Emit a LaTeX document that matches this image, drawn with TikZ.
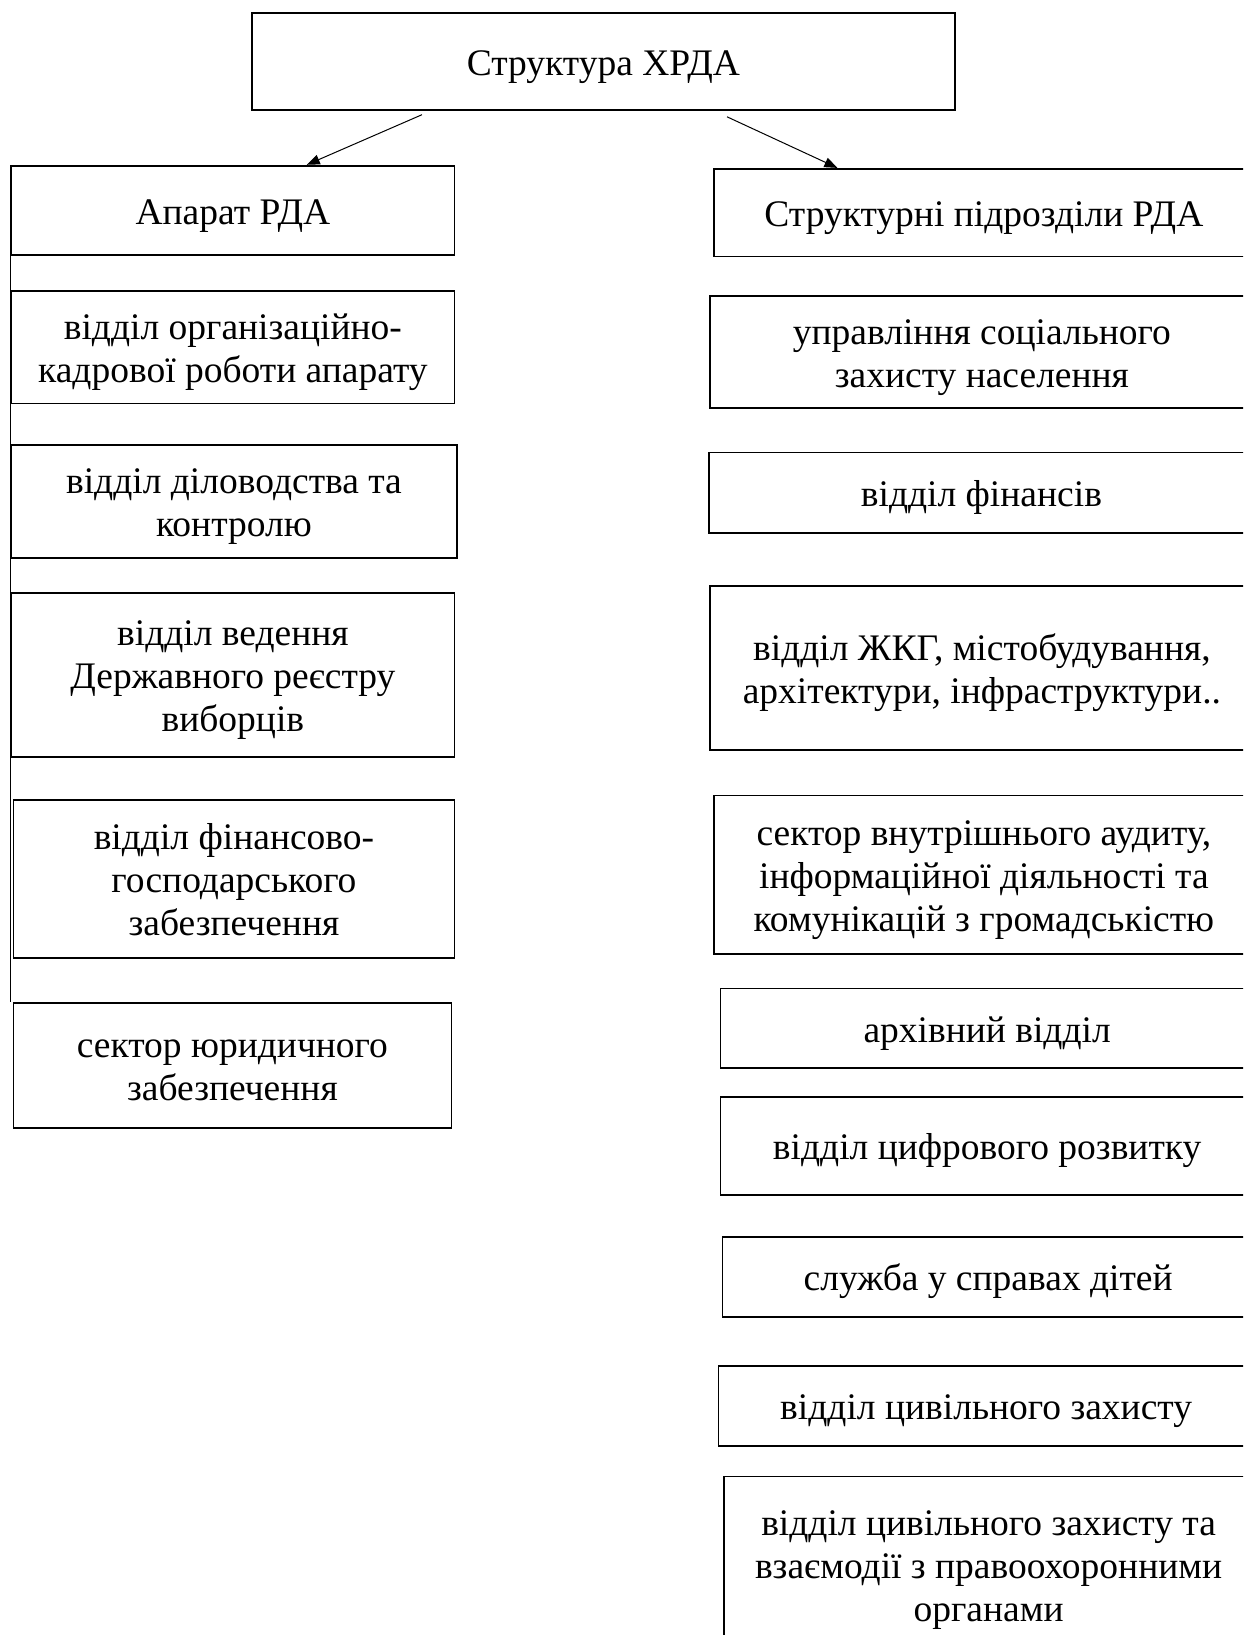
\documentclass[tikz,border=0pt]{standalone}
\usepackage{fontspec}
\setmainfont{Liberation Serif}
\usetikzlibrary{arrows.meta,calc}
\newcommand{\tA}{\rule{0pt}{36.7pt}}
\newcommand{\tZ}{\rule[-9pt]{0pt}{9pt}}
\begin{document}
\begin{tikzpicture}[x=1pt,y=-1pt,
 box/.style={draw, line width=1.8pt, inner sep=0pt, align=center, anchor=north west,
   font=\fontsize{37.5}{43}\selectfont},
 conn/.style={line width=1pt, -{Triangle[length=13pt,width=10pt]}},
 link/.style={line width=0.9pt}]
\useasboundingbox (0,0) rectangle (1243,1635);
\clip (0,0) rectangle (1243,1635);
\node[box, minimum width=703pt, minimum height=97pt] (top) at (251,12.5) {\tA Структура ХРДА\tZ};
\node[box, minimum width=443.2pt, minimum height=89.6pt] (ap) at (10.4,164.8) {\tA Апарат РДА\tZ};
\node[box, minimum width=540pt, minimum height=87.6pt] (st) at (713,167.9) {\tA Структурні підрозділи РДА\tZ};
% left column
\node[box, minimum width=443.2pt, minimum height=112.5pt] (l1) at (10.4,290) {\tA відділ організаційно-\\кадрової роботи апарату\tZ};
\node[box, minimum width=445.3pt, minimum height=113pt] (l2) at (10.4,444) {\tA відділ діловодства та\\контролю\tZ};
\node[box, minimum width=443.2pt, minimum height=164pt] (l3) at (10.4,592) {\tA відділ ведення\\Державного реєстру\\виборців\tZ};
\node[box, minimum width=441.1pt, minimum height=158pt] (l4) at (12.5,799) {\tA відділ фінансово-\\господарського\\забезпечення\tZ};
\node[box, minimum width=438pt, minimum height=125pt] (l5) at (12.5,1002) {\tA сектор юридичного\\забезпечення\tZ};
% right column
\node[box, minimum width=544pt, minimum height=112pt] (r1) at (709,295) {\tA управління соціального\\захисту населення\tZ};
\node[box, minimum width=545pt, minimum height=80.5pt] (r2) at (708,451.5) {\tA відділ фінансів\tZ};
\node[box, minimum width=544pt, minimum height=164pt] (r3) at (709,585) {\tA відділ ЖКГ, містобудування,\\архітектури, інфраструктури..\tZ};
\node[box, minimum width=540pt, minimum height=158.4pt] (r4) at (713,794.6) {\tA сектор внутрішнього аудиту,\\інформаційної діяльності та\\комунікацій з громадськістю\tZ};
\node[box, minimum width=533.5pt, minimum height=79.5pt] (r5) at (719.5,987.5) {\tA архівний відділ\tZ};
\node[box, minimum width=533.5pt, minimum height=98pt] (r6) at (719.5,1096) {\tA відділ цифрового розвитку\tZ};
\node[box, minimum width=531.4pt, minimum height=80pt] (r7) at (721.6,1236) {\tA служба у справах дітей\tZ};
\node[box, minimum width=535.5pt, minimum height=80pt] (r8) at (717.5,1365) {\tA відділ цивільного захисту\tZ};
\node[box, minimum width=530pt, minimum height=176pt] (r9) at (722.7,1475.5) {\tA відділ цивільного захисту та\\взаємодії з правоохоронними\\органами\tZ};
% connectors
\coordinate (s1) at (422,114.7);
\coordinate (s2) at (727,116.8);
\draw[conn] (s1) -- ($(ap.north west)!0.666!(ap.north east)$);
\draw[conn] (s2) -- ($(st.north west)!0.2296!(st.north east)$);
\draw[link] (ap.south west) -- (ap.south west |- l5.north west);
\end{tikzpicture}
\end{document}
